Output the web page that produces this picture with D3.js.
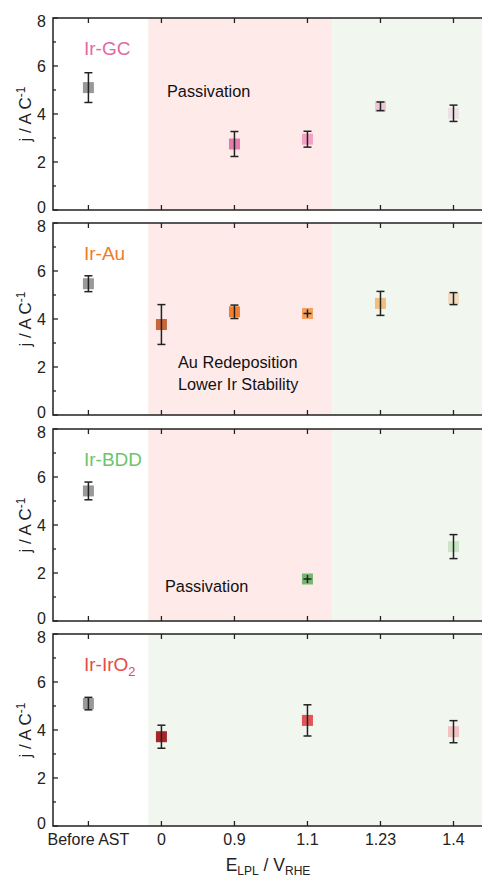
<!DOCTYPE html>
<html>
<head>
<meta charset="utf-8">
<script src="https://cdn.jsdelivr.net/npm/d3@7"></script>
<style>
body { margin: 0; background: #fff; }
svg { display: block; font-family: "Liberation Sans", Arial, sans-serif; }
</style>
</head>
<body>
<div id="chart"></div>
<script>
// categories along x (shared by all panels)
var categories = ["Before AST", "0", "0.9", "1.1", "1.23", "1.4"];
var yTicks = [0, 2, 4, 6, 8];

// panel names + label colours
var panelNames = ["Ir-GC", "Ir-Au", "Ir-BDD", "Ir-IrO2"];
var panelColors = ["#e466a6", "#f07a2a", "#6cc46c", "#e84a4a"];

// values per panel: [category index, mean, error, fill, cross-style]
var gcData = [[0, 5.1, 0.62, "#999999"], [2, 2.75, 0.52, "#e47cab"], [3, 2.95, 0.33, "#f3a0c2"],
              [4, 4.32, 0.18, "#f0c6d6"], [5, 4.03, 0.34, "#ece0e5"]];
var auData = [[0, 5.47, 0.33, "#999999"], [1, 3.77, 0.83, "#c9653a"], [2, 4.3, 0.28, "#f07f32"],
              [3, 4.23, 0.17, "#f5a060", true], [4, 4.65, 0.5, "#f1bd80"], [5, 4.85, 0.25, "#efdcc2"]];
var bddData = [[0, 5.42, 0.37, "#999999"], [3, 1.75, 0.17, "#76b66e", true], [5, 3.1, 0.5, "#c8e6c6"]];
var iro2Data = [[0, 5.1, 0.26, "#999999"], [1, 3.72, 0.48, "#a52828"], [3, 4.4, 0.65, "#e05656"],
                [5, 3.93, 0.46, "#f0c2c2"]];
var allData = [gcData, auData, bddData, iro2Data];

// shaded regions in category-index units: [from, to, colour]
var regions = [
  [[0.82, 3.34, "#ffeaea"], [3.34, 5.6, "#f1f7ef"]],
  [[0.82, 3.34, "#ffeaea"], [3.34, 5.6, "#f1f7ef"]],
  [[0.82, 3.34, "#ffeaea"], [3.34, 5.6, "#f1f7ef"]],
  [[0.82, 5.6, "#f1f7ef"]]
];

// annotation texts per panel
var notes = [
  [["Passivation", 167, 97]],
  [["Au Redeposition", 178, 368], ["Lower Ir Stability", 178, 390]],
  [["Passivation", 165, 592]],
  []
];

var W = 482, H = 879;
var panelTops = [18, 223, 429, 634], panelH = 192;
var left = 53, right = 490;

var svg = d3.select("#chart").append("svg").attr("width", W).attr("height", H);

var x = d3.scaleLinear().domain([-0.485, 5.5]).range([left, right]);
var axisColor = "#222";

panelTops.forEach(function(top, p) {
  var y = d3.scaleLinear().domain([0, 8]).range([top + panelH, top]);
  var g = svg.append("g");

  // backgrounds
  g.selectAll("rect.region").data(regions[p]).enter().append("rect")
    .attr("x", function(d) { return x(d[0]); })
    .attr("width", function(d) { return x(d[1]) - x(d[0]); })
    .attr("y", top).attr("height", panelH)
    .attr("fill", function(d) { return d[2]; });

  // frame
  g.append("rect").attr("x", left).attr("y", top)
    .attr("width", right - left).attr("height", panelH)
    .attr("fill", "none").attr("stroke", axisColor).attr("stroke-width", 1.5);

  // y ticks (inward) major + minor
  d3.range(0, 9).forEach(function(v) {
    var len = v % 2 === 0 ? 5 : 3;
    g.append("line").attr("x1", left).attr("x2", left + len)
      .attr("y1", y(v)).attr("y2", y(v))
      .attr("stroke", axisColor).attr("stroke-width", 1.3);
  });
  g.selectAll("text.yt").data(yTicks).enter().append("text")
    .attr("x", left - 7)
    .attr("y", function(d) { return y(d) + 5.5 + (d === 0 ? -2.5 : d === 8 ? 3 : 0); })
    .attr("text-anchor", "end").attr("font-size", 16).attr("fill", "#222")
    .text(function(d) { return d; });

  // x ticks top & bottom (inward)
  categories.forEach(function(c, i) {
    g.append("line").attr("x1", x(i)).attr("x2", x(i))
      .attr("y1", top + panelH).attr("y2", top + panelH - 5)
      .attr("stroke", axisColor).attr("stroke-width", 1.3);
    g.append("line").attr("x1", x(i)).attr("x2", x(i))
      .attr("y1", top).attr("y2", top + 5)
      .attr("stroke", axisColor).attr("stroke-width", 1.3);
  });

  // y title
  var yt = g.append("text")
    .attr("transform", "translate(31," + (top + panelH / 2) + ") rotate(-90)")
    .attr("text-anchor", "middle").attr("font-size", 17).attr("fill", "#222");
  yt.append("tspan").text("j / A C");
  yt.append("tspan").attr("dy", -6).attr("font-size", 12).text("-1");

  // panel name
  var nm = g.append("text").attr("x", 84).attr("y", top + 37)
    .attr("font-size", 19).attr("fill", panelColors[p]);
  if (panelNames[p] === "Ir-IrO2") {
    nm.append("tspan").text("Ir-IrO");
    nm.append("tspan").attr("dy", 5).attr("font-size", 13).text("2");
  } else {
    nm.text(panelNames[p]);
  }

  // notes
  g.selectAll("text.note").data(notes[p]).enter().append("text")
    .attr("x", function(d) { return d[1]; }).attr("y", function(d) { return d[2]; })
    .attr("font-size", 16.3).attr("fill", "#111")
    .text(function(d) { return d[0]; });

  // points
  var pts = g.selectAll("g.pt").data(allData[p]).enter().append("g");
  pts.append("rect")
    .attr("x", function(d) { return x(d[0]) - 5.5; })
    .attr("y", function(d) { return y(d[1]) - 5.5; })
    .attr("width", 11).attr("height", 11)
    .attr("fill", function(d) { return d[3]; });
  pts.append("line")
    .attr("x1", function(d) { return x(d[0]); }).attr("x2", function(d) { return x(d[0]); })
    .attr("y1", function(d) { return y(d[1] + d[2]); })
    .attr("y2", function(d) { return y(d[1] - d[2]); })
    .attr("stroke", "#222").attr("stroke-width", 1.5);
  // caps; the "cross" points have their bar drawn through the centre
  pts.each(function(d) {
    var el = d3.select(this);
    var ys = d[4] ? [d[1]] : [d[1] + d[2], d[1] - d[2]];
    ys.forEach(function(v) {
      el.append("line")
        .attr("x1", x(d[0]) - 4).attr("x2", x(d[0]) + 4)
        .attr("y1", y(v)).attr("y2", y(v))
        .attr("stroke", "#222").attr("stroke-width", 1.5);
    });
  });

  // category labels only on last panel
  if (p === panelTops.length - 1) {
    g.selectAll("text.xt").data(categories).enter().append("text")
      .attr("x", function(d, i) { return x(i); })
      .attr("y", top + panelH + 19)
      .attr("text-anchor", "middle").attr("font-size", 16).attr("fill", "#222")
      .text(function(d) { return d; });
  }
});

// x title
var xt = svg.append("text").attr("x", 268).attr("y", 871)
  .attr("text-anchor", "middle").attr("font-size", 17.5).attr("fill", "#222");
xt.append("tspan").text("E");
xt.append("tspan").attr("dy", 4).attr("font-size", 12).text("LPL");
xt.append("tspan").attr("dy", -4).text(" / V");
xt.append("tspan").attr("dy", 4).attr("font-size", 12).text("RHE");
</script>
</body>
</html>
